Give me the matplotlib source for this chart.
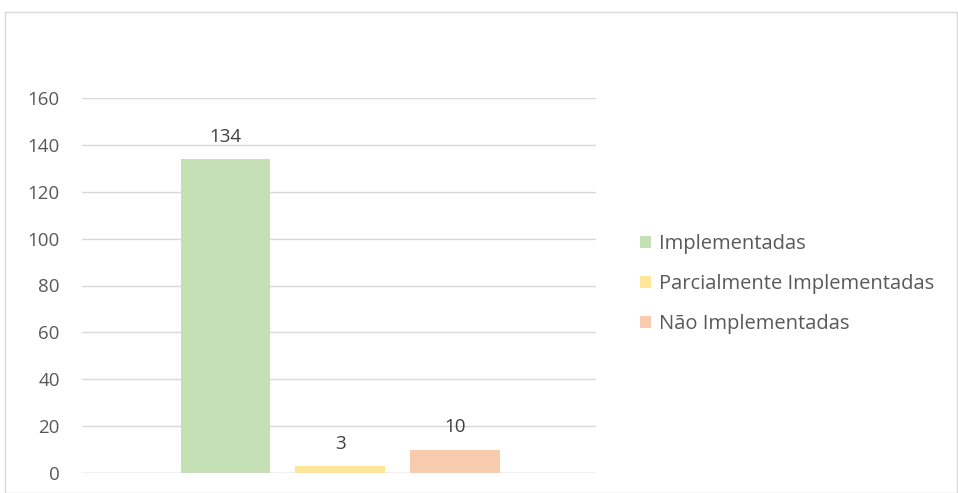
import matplotlib.pyplot as plt
from matplotlib.patches import Rectangle, Patch

# Data
labels = ["Implementadas", "Parcialmente Implementadas", "Não Implementadas"]
values = [134, 3, 10]
colors = ["#C5E0B4", "#FFE699", "#F8CBAD"]
yticks = [0, 20, 40, 60, 80, 100, 120, 140, 160]

plt.rcParams['font.family'] = ['Open Sans', 'DejaVu Sans']

fig = plt.figure(figsize=(9.58, 4.93), dpi=100)
ax = fig.add_axes([82 / 958, 20 / 493, (596 - 82) / 958, (473 - 98) / 493])

# outer chart border
fig.patches.append(Rectangle((5 / 958, 0), 952 / 958, 481 / 493, transform=fig.transFigure,
                             fill=False, edgecolor="#D9D9D9", linewidth=1))

x = list(range(len(values)))
bars = ax.bar(x, values, width=0.78, color=colors, zorder=2)
for b, v in zip(bars, values):
    ax.annotate(str(v), (b.get_x() + b.get_width() / 2, v), xytext=(0, 16),
                textcoords="offset points", ha="center", va="center",
                fontsize=13.5, color="#404040")

ax.set_xlim(-1.25, 3.23)
ax.set_ylim(0, 160)
ax.set_yticks(yticks)
ax.yaxis.grid(True, color="#D9D9D9", linewidth=1, zorder=0)
ax.axhline(0, color="#D9D9D9", linewidth=1, zorder=3)
ax.set_xticks([])
for s in ax.spines.values():
    s.set_visible(False)
ax.tick_params(axis="y", length=0, pad=16, labelsize=13.5, labelcolor="#595959")

handles = [Patch(facecolor=c, edgecolor="none") for c in colors]
fig.legend(handles, labels, loc="center left", bbox_to_anchor=(630 / 958, 1 - 284 / 493),
           frameon=False, fontsize=14.5, labelcolor="#595959", handlelength=0.55,
           handleheight=0.55, handletextpad=0.4, labelspacing=1.0, borderpad=0)

fig.savefig("out.png", dpi=100)
